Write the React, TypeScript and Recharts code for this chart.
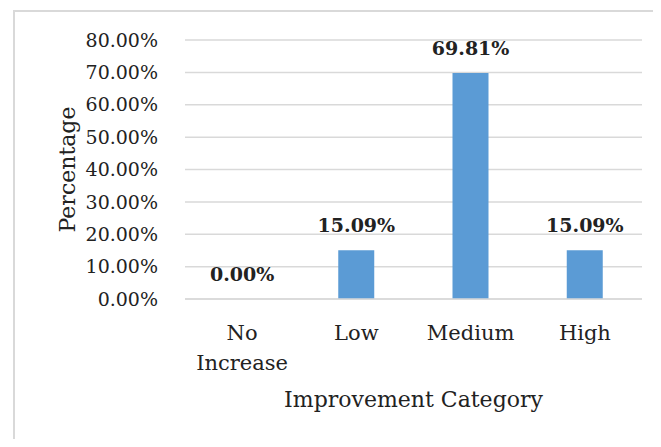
import React from 'react';
import { ComposedChart, Bar, Line, XAxis, YAxis, CartesianGrid, LabelList, Label } from 'recharts';

const categories = ['No Increase', 'Low', 'Medium', 'High'];
const percentages = [0, 15.09, 69.81, 15.09];
const yTicks = [0, 10, 20, 30, 40, 50, 60, 70, 80];

const data = categories.map((name, i) => ({ name, value: percentages[i] }));

const FONT = '"DejaVu Serif", serif';

const CategoryTick = (props: any) => {
  const { x, y, payload } = props;
  const words = String(payload.value).split(' ');
  return (
    <text x={x} y={y} textAnchor="middle" fill="#222" fontFamily={FONT} fontSize={21}>
      {words.map((w, i) => (
        <tspan key={i} x={x} dy={i === 0 ? 33 : 30}>{w}</tspan>
      ))}
    </text>
  );
};

const YTitle = (props: any) => {
  const { viewBox } = props;
  const cx = 67;
  const cy = viewBox.y + viewBox.height / 2;
  return (
    <text
      x={cx}
      y={cy}
      transform={`rotate(-90, ${cx}, ${cy})`}
      textAnchor="middle"
      dominantBaseline="central"
      fill="#222"
      fontFamily={FONT}
      fontSize={22}
    >
      Percentage
    </text>
  );
};

const App: React.FC = () => {
  return (
    <div style={{ margin: -8, width: 661, height: 447, position: 'relative', overflow: 'hidden', background: '#fff' }}>
      <div
        style={{
          position: 'absolute',
          left: 13,
          top: 10,
          width: 700,
          height: 500,
          borderLeft: '2px solid #d9d9d9',
          borderTop: '2px solid #d9d9d9',
        }}
      />
      <div style={{ position: 'absolute', left: 0, top: 0 }}>
        <ComposedChart
          width={661}
          height={447}
          data={data}
          margin={{ top: 40, right: 19, bottom: 36, left: 50 }}
        >
          <CartesianGrid vertical={false} stroke="#d9d9d9" strokeWidth={1.5} />
          <XAxis
            dataKey="name"
            axisLine={{ stroke: '#d9d9d9', strokeWidth: 1.5 }}
            tickLine={false}
            interval={0}
            height={112}
            tick={<CategoryTick />}
          >
            <Label
              value="Improvement Category"
              position="insideBottom"
              offset={4}
              fill="#222"
              fontFamily={FONT}
              fontSize={22}
            />
          </XAxis>
          <YAxis
            domain={[0, 80]}
            ticks={yTicks}
            axisLine={false}
            tickLine={false}
            tickSize={0}
            tickMargin={27}
            width={135}
            tickFormatter={(v: number) => `${v.toFixed(2)}%`}
            tick={{ fill: '#222', fontFamily: FONT, fontSize: 19 }}
            label={<YTitle />}
          />
          <Bar dataKey="value" fill="#5b9bd5" barSize={36} isAnimationActive={false} />
          <Line
            dataKey="value"
            stroke="none"
            dot={false}
            activeDot={false}
            legendType="none"
            isAnimationActive={false}
          >
            <LabelList
              dataKey="value"
              position="top"
              offset={18}
              formatter={(v: number) => `${v.toFixed(2)}%`}
              fill="#222"
              fontFamily={FONT}
              fontSize={19}
              fontWeight="bold"
            />
          </Line>
        </ComposedChart>
      </div>
    </div>
  );
};

export default App;
